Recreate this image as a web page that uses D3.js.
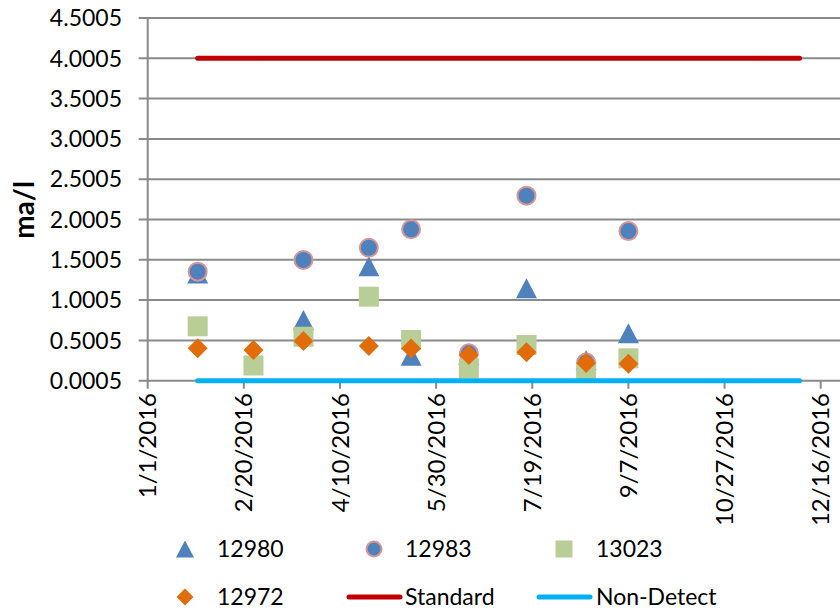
<!DOCTYPE html>
<html>
<head>
<meta charset="utf-8">
<script src="https://cdn.jsdelivr.net/npm/d3@7"></script>
<style>
    body{margin:0;background:#fff;}
    text{font-family:Lato, "Open Sans", sans-serif;fill:#000;}
</style>
</head>
<body>
<svg id="chart" width="840" height="610"></svg>
<script>
// sample dates and the four well series (null = no marker that date)
var sampleDates = ["2016-01-27","2016-02-25","2016-03-22","2016-04-25","2016-05-17",
                   "2016-06-16","2016-07-16","2016-08-16","2016-09-07"];
var s12980 = [1.33, null, 0.753, 1.42, 0.31, 0.32, 1.147, 0.257, 0.588];
var s12983 = [1.353, null, 1.498, 1.65, 1.879, 0.34, 2.296, 0.225, 1.857];
var s13023 = [0.675, 0.189, 0.546, 1.043, 0.505, 0.154, 0.443, 0.118, 0.278];
var s12972 = [0.402, 0.381, 0.493, 0.431, 0.40, 0.32, 0.354, 0.22, 0.211];

// reference lines
var lineDates = ["2016-01-27","2016-12-05"];
var standardValues = [4.0005, 4.0005];
var nonDetectValues = [0.0005, 0.0005];

// axes
var xTickDates = ["2016-01-01","2016-02-20","2016-04-10","2016-05-30",
                  "2016-07-19","2016-09-07","2016-10-27","2016-12-16"];
var yTicks = [0.0005,0.5005,1.0005,1.5005,2.0005,2.5005,3.0005,3.5005,4.0005,4.5005];

var svg = d3.select("#chart"),
    width = 840,
    plotLeft = 147.7, plotRight = 820.7,
    plotTop = 18, plotBottom = 380.7,
    gridColor = "#8a8a8a",
    parse = d3.utcParse("%Y-%m-%d"),
    fmt = d3.utcFormat("%-m/%-d/%Y");

var x = d3.scaleUtc()
    .domain([parse(xTickDates[0]), parse(xTickDates[xTickDates.length-1])])
    .range([plotLeft, plotRight]);
var y = d3.scaleLinear()
    .domain([yTicks[0], yTicks[yTicks.length-1]])
    .range([plotBottom, plotTop]);

// marker shapes, centred on the bounding box like Excel does
function shapePath(type, s){
    var h = s/2;
    if(type=="triangle") return "M0,"+(-h)+"L"+(h+0.5)+","+h+"L"+(-h-0.5)+","+h+"Z";
    if(type=="square") return "M"+(-h)+","+(-h)+"h"+s+"v"+s+"h"+(-s)+"Z";
    if(type=="diamond") return "M0,"+(-h)+"L"+h+",0L0,"+h+"L"+(-h)+",0Z";
    return "";
}

var series = [
    {name:"12980", values:s12980, type:"triangle", fill:"#4f81bd", stroke:"none"},
    {name:"12983", values:s12983, type:"circle", fill:"#4f81bd", stroke:"#d99694"},
    {name:"13023", values:s13023, type:"square", fill:"#b9cd96", stroke:"none"},
    {name:"12972", values:s12972, type:"diamond", fill:"#e36c0a", stroke:"none"}
];
var refLines = [
    {name:"Standard", values:standardValues, color:"#c00000"},
    {name:"Non-Detect", values:nonDetectValues, color:"#00b0f0"}
];

// horizontal gridlines
svg.append("g").selectAll("line").data(yTicks).enter().append("line")
    .attr("x1", plotLeft - 9).attr("x2", width)
    .attr("y1", function(d){ return y(d); })
    .attr("y2", function(d){ return y(d); })
    .attr("stroke", gridColor).attr("stroke-width", 2);

// y axis line
svg.append("line")
    .attr("x1", plotLeft).attr("x2", plotLeft)
    .attr("y1", plotTop).attr("y2", plotBottom)
    .attr("stroke", gridColor).attr("stroke-width", 2);

svg.append("g").selectAll("text").data(yTicks).enter().append("text")
    .attr("x", 122).attr("y", function(d){ return y(d); })
    .attr("dy", "0.36em")
    .attr("text-anchor", "end")
    .style("font-size", "23px")
    .text(function(d){ return d.toFixed(4); });

// x ticks + rotated labels
var xt = svg.append("g").selectAll("g").data(xTickDates).enter().append("g")
    .attr("transform", function(d){ return "translate("+x(parse(d))+",0)"; });
xt.append("line")
    .attr("y1", plotBottom).attr("y2", plotBottom + 8)
    .attr("stroke", gridColor).attr("stroke-width", 2);
xt.append("text")
    .attr("transform", "translate(0,393) rotate(-90)")
    .attr("dy", "0.36em")
    .attr("text-anchor", "end")
    .style("font-size", "24px")
    .text(function(d){ return fmt(parse(d)); });

// y title
svg.append("text")
    .attr("transform", "translate(24,210) rotate(-90)")
    .attr("dy", "0.36em")
    .attr("text-anchor", "middle")
    .style("font-size", "28px")
    .style("font-weight", "bold")
    .text("ma/l");

// markers
series.forEach(function(s){
    var pts = sampleDates.map(function(d,i){ return {date:parse(d), v:s.values[i]}; })
        .filter(function(p){ return p.v != null; });
    var g = svg.append("g").attr("class", "series");
    if(s.type=="circle"){
        g.selectAll("circle").data(pts).enter().append("circle")
            .attr("cx", function(p){ return x(p.date); })
            .attr("cy", function(p){ return y(p.v); })
            .attr("r", 9)
            .attr("fill", s.fill).attr("stroke", s.stroke).attr("stroke-width", 2);
    }
    else{
        g.selectAll("path").data(pts).enter().append("path")
            .attr("transform", function(p){ return "translate("+x(p.date)+","+y(p.v)+")"; })
            .attr("d", shapePath(s.type, 20))
            .attr("fill", s.fill);
    }
});

// reference lines
var line = d3.line()
    .x(function(d){ return x(d.date); })
    .y(function(d){ return y(d.v); });
refLines.forEach(function(r){
    var pts = lineDates.map(function(d,i){ return {date:parse(d), v:r.values[i]}; });
    svg.append("path")
        .attr("d", line(pts))
        .attr("fill", "none")
        .attr("stroke", r.color)
        .attr("stroke-width", 5)
        .attr("stroke-linecap", "round");
});

// legend
var legendItems = [
    {item:series[0], cx:185, tx:217, cy:549},
    {item:series[1], cx:374, tx:405, cy:549},
    {item:series[2], cx:564, tx:596, cy:549},
    {item:series[3], cx:185, tx:217, cy:597},
    {item:refLines[0], cx:374, tx:405, cy:597},
    {item:refLines[1], cx:564, tx:596, cy:597}
];
var legend = svg.append("g").attr("class", "legend");
legendItems.forEach(function(l){
    var d = l.item;
    if(d.color){
        legend.append("line")
            .attr("x1", l.cx - 25).attr("x2", l.cx + 26)
            .attr("y1", l.cy).attr("y2", l.cy)
            .attr("stroke", d.color).attr("stroke-width", 5)
            .attr("stroke-linecap", "round");
    }
    else if(d.type=="circle"){
        legend.append("circle")
            .attr("cx", l.cx).attr("cy", l.cy).attr("r", 7.5)
            .attr("fill", d.fill).attr("stroke", d.stroke).attr("stroke-width", 2);
    }
    else{
        legend.append("path")
            .attr("transform", "translate("+l.cx+","+l.cy+")")
            .attr("d", shapePath(d.type, 17))
            .attr("fill", d.fill);
    }
    legend.append("text")
        .attr("x", l.tx).attr("y", l.cy)
        .attr("dy", "0.36em")
        .style("font-size", "23px")
        .text(d.name);
});
</script>
</body>
</html>
